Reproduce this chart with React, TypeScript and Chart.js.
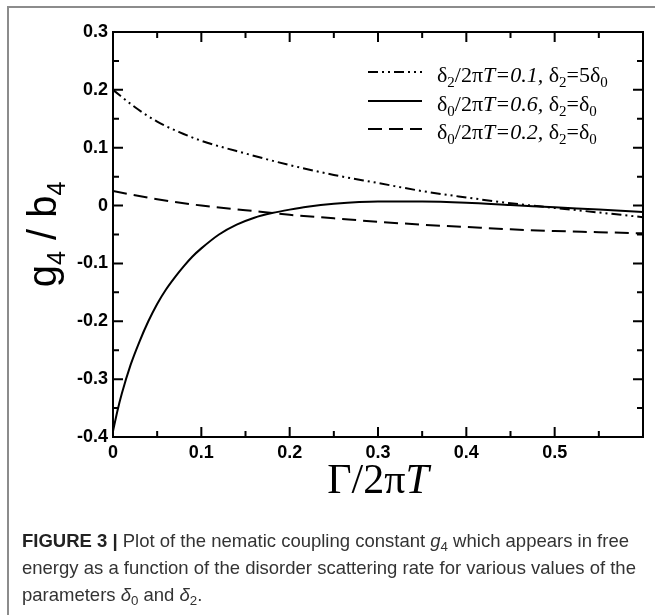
import React, { useEffect, useRef } from "react";
import { Chart, registerables } from "chart.js";

Chart.register(...registerables);

// ---- data ----
const seriesLabels = ["δ2/2πT=0.1, δ2=5δ0", "δ0/2πT=0.6, δ2=δ0", "δ0/2πT=0.2, δ2=δ0"];

const gamma1 = [0, 0.025, 0.05, 0.075, 0.1, 0.15, 0.2, 0.25, 0.3, 0.35, 0.4, 0.45, 0.5, 0.55, 0.6];
const g4b4_1 = [0.2, 0.17, 0.145, 0.127, 0.112, 0.09, 0.07, 0.053, 0.039, 0.025, 0.014, 0.004, -0.004, -0.012, -0.02];

const gamma2 = [0, 0.005, 0.01, 0.02, 0.03, 0.04, 0.05, 0.06, 0.07, 0.08, 0.09, 0.1, 0.12, 0.14, 0.16, 0.18, 0.2, 0.22, 0.25, 0.3, 0.35, 0.4, 0.45, 0.5, 0.55, 0.6];
const g4b4_2 = [-0.39, -0.355, -0.325, -0.275, -0.235, -0.2, -0.17, -0.145, -0.124, -0.105, -0.088, -0.074, -0.05, -0.033, -0.021, -0.013, -0.007, -0.002, 0.003, 0.007, 0.007, 0.005, 0.001, -0.003, -0.007, -0.011];

const gamma3 = [0, 0.05, 0.1, 0.15, 0.2, 0.25, 0.3, 0.35, 0.4, 0.45, 0.5, 0.55, 0.6];
const g4b4_3 = [0.025, 0.011, 0.0, -0.008, -0.016, -0.022, -0.028, -0.033, -0.037, -0.041, -0.044, -0.046, -0.048];

const xMin = 0, xMax = 0.6, yMin = -0.4, yMax = 0.3;
const tickStep = 0.05;

// ---- helpers ----
type Seg = { t: string; font: string; dy: number };

function segWidth(ctx: CanvasRenderingContext2D, segs: Seg[]) {
  let w = 0;
  segs.forEach((s) => {
    ctx.font = s.font;
    w += ctx.measureText(s.t).width;
  });
  return w;
}

function drawSegs(ctx: CanvasRenderingContext2D, segs: Seg[], x: number, y: number, align: "left" | "center") {
  const w = segWidth(ctx, segs);
  let cx = align === "center" ? x - w / 2 : x;
  ctx.textAlign = "left";
  ctx.textBaseline = "alphabetic";
  segs.forEach((s) => {
    ctx.font = s.font;
    ctx.fillText(s.t, cx, y + s.dy);
    cx += ctx.measureText(s.t).width;
  });
}

function legendSegs(label: string): Seg[] {
  const main = "22px 'Liberation Serif'";
  const ital = "italic 22px 'Liberation Serif'";
  const sub = "15px 'Liberation Serif'";
  const segs: Seg[] = [];
  let italic = false;
  for (let i = 0; i < label.length; i++) {
    const c = label[i];
    if (c === "T") italic = true;
    if (/[0-9]/.test(c) && i > 0 && label[i - 1] === "δ") {
      segs.push({ t: c, font: sub, dy: 5 });
    } else {
      segs.push({ t: c, font: italic ? ital : main, dy: 0 });
    }
    if (c === ",") italic = false;
  }
  return segs;
}

function isMajor(v: number) {
  return Math.round(v * 100) % 10 === 0;
}

const decorPlugin = {
  id: "decor",
  afterDraw(chart: any) {
    const ctx: CanvasRenderingContext2D = chart.ctx;
    const { left, right, top, bottom } = chart.chartArea;
    const xs = chart.scales.x;
    const ys = chart.scales.y;
    ctx.save();
    ctx.strokeStyle = "#000";
    ctx.fillStyle = "#000";
    ctx.lineWidth = 2;
    ctx.setLineDash([]);
    ctx.strokeRect(left, top, right - left, bottom - top);
    ctx.beginPath();
    xs.ticks.forEach((t: any) => {
      const px = xs.getPixelForValue(t.value);
      const len = isMajor(t.value) ? 10 : 6;
      ctx.moveTo(px, bottom);
      ctx.lineTo(px, bottom - len);
      ctx.moveTo(px, top);
      ctx.lineTo(px, top + len);
    });
    ys.ticks.forEach((t: any) => {
      const py = ys.getPixelForValue(t.value);
      const len = isMajor(t.value) ? 10 : 6;
      ctx.moveTo(left, py);
      ctx.lineTo(left + len, py);
      ctx.moveTo(right, py);
      ctx.lineTo(right - len, py);
    });
    ctx.stroke();

    // legend
    const rowBase = [82, 111, 139];
    chart.data.datasets.forEach((ds: any, i: number) => {
      const by = rowBase[i];
      ctx.beginPath();
      ctx.lineWidth = 2;
      ctx.setLineDash(ds.borderDash || []);
      ctx.moveTo(368, by - 10);
      ctx.lineTo(422, by - 10);
      ctx.stroke();
      ctx.setLineDash([]);
      drawSegs(ctx, legendSegs(ds.label), 437, by, "left");
    });

    // x axis title
    drawSegs(
      ctx,
      [
        { t: "Γ/2π", font: "42px 'Liberation Serif'", dy: 0 },
        { t: "T", font: "italic 42px 'Liberation Serif'", dy: 0 },
      ],
      (left + right) / 2,
      493,
      "center"
    );

    // y axis title
    ctx.save();
    ctx.translate(56, (top + bottom) / 2);
    ctx.rotate(-Math.PI / 2);
    drawSegs(
      ctx,
      [
        { t: "g", font: "40px 'Liberation Sans'", dy: 0 },
        { t: "4", font: "25px 'Liberation Sans'", dy: 9 },
        { t: " / b", font: "40px 'Liberation Sans'", dy: 0 },
        { t: "4", font: "25px 'Liberation Sans'", dy: 9 },
      ],
      0,
      0,
      "center"
    );
    ctx.restore();
    ctx.restore();
  },
};

const tickFont = { family: "'Liberation Sans'", size: 18, weight: "bold" as const };

export default function App() {
  const ref = useRef<HTMLCanvasElement | null>(null);

  useEffect(() => {
    if (!ref.current) return;
    const mk = (xs: number[], ys: number[]) => xs.map((x, i) => ({ x, y: ys[i] }));
    const chart = new Chart(ref.current, {
      type: "line",
      data: {
        datasets: [
          { label: seriesLabels[0], data: mk(gamma1, g4b4_1), borderColor: "#000", borderWidth: 2, borderDash: [10, 4, 2, 4, 2, 4], pointRadius: 0, cubicInterpolationMode: "monotone", fill: false },
          { label: seriesLabels[1], data: mk(gamma2, g4b4_2), borderColor: "#000", borderWidth: 2, pointRadius: 0, cubicInterpolationMode: "monotone", fill: false },
          { label: seriesLabels[2], data: mk(gamma3, g4b4_3), borderColor: "#000", borderWidth: 2, borderDash: [14, 7], pointRadius: 0, cubicInterpolationMode: "monotone", fill: false },
        ],
      },
      options: {
        responsive: false,
        animation: false,
        devicePixelRatio: 1,
        layout: { padding: { top: 32, right: 12, left: 0, bottom: 0 } },
        plugins: { legend: { display: false }, tooltip: { enabled: false }, title: { display: false } },
        scales: {
          x: {
            type: "linear",
            min: xMin,
            max: xMax,
            afterFit: (s: any) => {
              s.height = 178;
            },
            grid: { display: false, drawTicks: false },
            border: { display: false },
            ticks: {
              stepSize: tickStep,
              autoSkip: false,
              maxRotation: 0,
              padding: 5,
              color: "#000",
              font: tickFont,
              callback: (v: any) => {
                const n = Math.round(Number(v) * 100);
                if (n % 10 !== 0 || n === 60) return "";
                return n === 0 ? "0" : (n / 100).toFixed(1);
              },
            },
          },
          y: {
            type: "linear",
            min: yMin,
            max: yMax,
            afterFit: (s: any) => {
              s.width = 113;
            },
            grid: { display: false, drawTicks: false },
            border: { display: false },
            ticks: {
              stepSize: tickStep,
              autoSkip: false,
              padding: 5,
              color: "#000",
              font: tickFont,
              callback: (v: any) => {
                const n = Math.round(Number(v) * 100);
                if (n % 10 !== 0) return "";
                return n === 0 ? "0" : (n / 100).toFixed(1);
              },
            },
          },
        },
      },
      plugins: [decorPlugin],
    });
    return () => chart.destroy();
  }, []);

  const sub: React.CSSProperties = { fontSize: "0.72em", position: "relative", top: "0.3em", verticalAlign: "baseline", lineHeight: 0 };

  return (
    <div style={{ position: "absolute", left: 0, top: 0, width: 655, height: 615, overflow: "hidden", background: "#fff" }}>
      <div style={{ position: "absolute", left: 7, top: 6, width: 700, height: 700, borderTop: "2px solid #8c8c8c", borderLeft: "2px solid #8c8c8c" }} />
      <canvas ref={ref} width={655} height={615} style={{ position: "absolute", left: 0, top: 0 }} />
      <div style={{ position: "absolute", left: 22, top: 527, fontFamily: "'Liberation Sans', Arial, sans-serif", fontSize: 18.5, lineHeight: "27px", color: "#333", whiteSpace: "nowrap" }}>
        <div>
          <b style={{ color: "#222" }}>FIGURE 3 |</b> Plot of the nematic coupling constant <i>g</i><span style={sub}>4</span> which appears in free
        </div>
        <div>energy as a function of the disorder scattering rate for various values of the</div>
        <div>
          parameters <i>δ</i><span style={sub}>0</span> and <i>δ</i><span style={sub}>2</span>.
        </div>
      </div>
    </div>
  );
}
